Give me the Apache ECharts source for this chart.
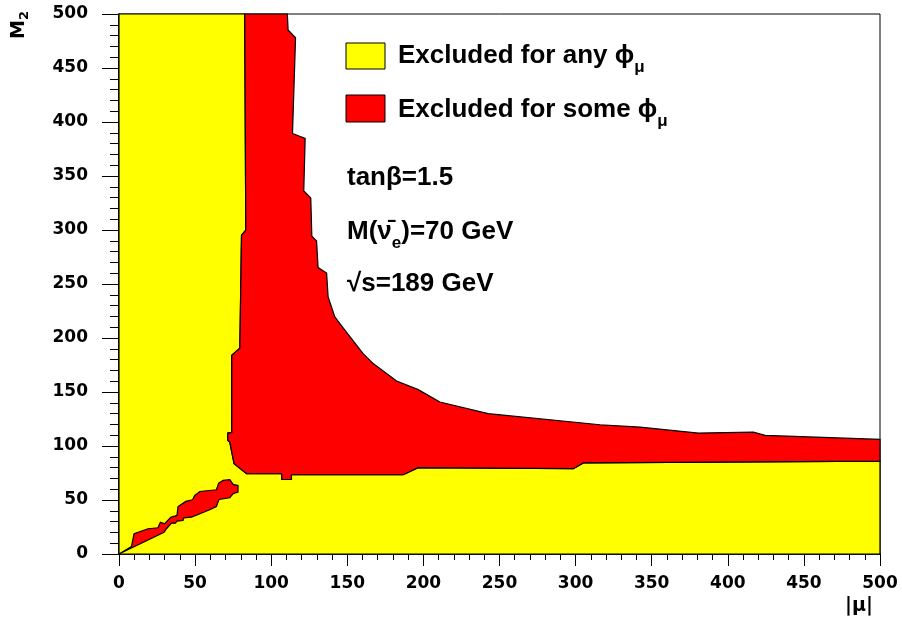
<!DOCTYPE html>
<html><head><meta charset="utf-8">
<script src="https://cdn.jsdelivr.net/npm/echarts@6/dist/echarts.min.js"></script>
<style>html,body{margin:0;padding:0;background:#fff}#c{width:902px;height:619px}</style>
</head><body><div id="c"></div>
<script>
// |mu| (x) vs M2 (y) exclusion regions, tan(beta)=1.5
const xTicks = [0, 50, 100, 150, 200, 250, 300, 350, 400, 450, 500];
const yTicks = [0, 50, 100, 150, 200, 250, 300, 350, 400, 450, 500];

// "Excluded for any phi_mu" (yellow) – drawn underneath
const yellowRegion = [
  [0, 0], [0, 500], [82.6, 500], [83.3, 299.8], [80.5, 295.2], [79.4, 190.5],
  [74.1, 184.0], [74.1, 112.6], [71.5, 112.0], [71.5, 105.2], [72.8, 103.6],
  [75.6, 83.6], [83.8, 74.3], [106.8, 74.3], [107.0, 69.0], [113.3, 69.0],
  [113.3, 73.4], [186.7, 73.4], [196.6, 79.9], [298.5, 79.0], [305.1, 84.3],
  [500, 86.0], [500, 0]
];

// "Excluded for some phi_mu" (red) – main band
const redRegion = [
  [82.6, 500], [110.6, 500], [111.1, 485.2], [116.0, 478.0], [114.0, 389.4],
  [122.3, 384.8], [121.4, 336.2], [126.0, 329.7], [126.7, 294.3], [129.8, 289.9],
  [130.8, 265.2], [136.4, 260.2], [137.4, 238.0], [141.8, 219.5], [148.4, 207.2],
  [160.4, 185.5], [167.0, 176.3], [182.4, 160.1], [196.6, 152.2], [210.8, 140.7],
  [242.6, 129.9], [316.0, 119.7], [342.3, 117.5], [380.7, 112.0], [416.8, 112.9],
  [424.5, 109.8], [500, 106.1], [500, 86.0], [305.1, 84.3], [298.5, 79.0],
  [196.6, 79.9], [186.7, 73.4], [113.3, 73.4], [113.3, 69.0], [107.0, 69.0],
  [106.8, 74.3], [83.8, 74.3], [75.6, 83.6], [72.8, 103.6], [71.5, 105.2],
  [71.5, 112.0], [74.1, 112.6], [74.1, 184.0], [79.4, 190.5], [80.5, 295.2],
  [83.3, 299.8]
];

// red island along the diagonal
const redIsland = [
  [0, 0], [8.2, 7.0], [9.9, 18.7], [19.1, 23.4], [25.6, 24.3], [27.2, 29.5],
  [30.0, 28.0], [34.0, 34.1], [38.1, 35.7], [38.8, 44.0], [43.9, 48.7],
  [48.3, 50.2], [49.8, 54.2], [53.1, 57.9], [64.0, 59.5], [65.5, 65.6],
  [68.4, 68.1], [72.8, 68.8], [75.0, 64.4], [78.2, 63.5], [78.2, 57.3],
  [75.0, 55.8], [72.8, 52.1], [65.7, 50.5], [64.0, 44.0], [59.6, 41.0],
  [50.4, 35.7], [47.6, 34.1], [42.5, 33.5], [42.1, 31.0], [38.1, 30.4],
  [37.1, 28.5], [34.5, 28.5], [31.2, 23.4], [29.6, 20.2]
];

const YELLOW = '#ffff00', RED = '#ff0000';
const FONT = 'Liberation Sans, Arial, sans-serif';
const TICKFONT = 'DejaVu Sans, sans-serif';

function polySeries(name, pts, fill, z) {
  return {
    type: 'custom', name: name, data: pts, z: z, silent: true,
    renderItem: function (params, api) {
      if (params.dataIndex !== 0) return null;
      return {
        type: 'polygon',
        shape: { points: pts.map(function (p) { return api.coord(p); }) },
        style: { fill: fill, stroke: '#000', lineWidth: 1.2 }
      };
    }
  };
}

const chart = echarts.init(document.getElementById('c'), null, { renderer: 'canvas' });
const bigA = { fontSize: 26, fontWeight: 'bold', fontFamily: FONT, color: '#000', lineHeight: 30 };
const bigS = { fontSize: 17, fontWeight: 'bold', fontFamily: FONT, color: '#000', lineHeight: 17, padding: [22, 0, 0, 0] };

chart.setOption({
  animation: false,
  backgroundColor: '#fff',
  grid: { left: 119, top: 14, right: 22, bottom: 65, show: true, borderColor: '#000', borderWidth: 1, backgroundColor: '#fff' },
  xAxis: {
    type: 'value', min: xTicks[0], max: xTicks[xTicks.length - 1], interval: 50,
    axisLine: { onZero: false, lineStyle: { color: '#000', width: 1.5 } },
    axisTick: { length: 12, lineStyle: { color: '#000', width: 1 } },
    minorTick: { show: true, splitNumber: 5, length: 6, lineStyle: { color: '#000', width: 1 } },
    splitLine: { show: false },
    axisLabel: { fontFamily: TICKFONT, fontWeight: 'bold', fontSize: 17, color: '#000', margin: 21 }
  },
  yAxis: {
    type: 'value', min: yTicks[0], max: yTicks[yTicks.length - 1], interval: 50,
    axisLine: { onZero: false, lineStyle: { color: '#000', width: 1.5 } },
    axisTick: { length: 17, lineStyle: { color: '#000', width: 1 } },
    minorTick: { show: true, splitNumber: 5, length: 9, lineStyle: { color: '#000', width: 1 } },
    splitLine: { show: false },
    axisLabel: { fontFamily: TICKFONT, fontWeight: 'bold', fontSize: 17, color: '#000', margin: 31 }
  },
  series: [
    polySeries('Excluded for any', yellowRegion, YELLOW, 2),
    polySeries('Excluded for some', redRegion, RED, 3),
    polySeries('Excluded for some (island)', redIsland, RED, 4)
  ],
  graphic: [
    { type: 'rect', shape: { x: 346, y: 43, width: 39, height: 26 }, style: { fill: YELLOW, stroke: '#000', lineWidth: 1 }, z: 10 },
    { type: 'rect', shape: { x: 346, y: 95, width: 39, height: 27 }, style: { fill: RED, stroke: '#000', lineWidth: 1 }, z: 10 },
    { type: 'text', x: 398, y: 56, z: 10, style: { text: '{a|Excluded for any ϕ}{s|μ}', rich: { a: bigA, s: bigS }, verticalAlign: 'middle', align: 'left' } },
    { type: 'text', x: 398, y: 110, z: 10, style: { text: '{a|Excluded for some ϕ}{s|μ}', rich: { a: bigA, s: bigS }, verticalAlign: 'middle', align: 'left' } },
    { type: 'text', x: 347, y: 178, z: 10, style: { text: 'tanβ=1.5', font: 'bold 26px ' + FONT, fill: '#000', verticalAlign: 'middle', align: 'left' } },
    { type: 'text', x: 347, y: 232, z: 10, style: { text: '{a|M(ν\u0304}{s|e}{a|)=70 GeV}', rich: { a: bigA, s: bigS }, verticalAlign: 'middle', align: 'left' } },
    { type: 'text', x: 347, y: 284, z: 10, style: { text: '√s=189 GeV', font: 'bold 26px ' + FONT, fill: '#000', verticalAlign: 'middle', align: 'left' } },
    { type: 'text', x: 19, y: 25, rotation: Math.PI / 2, z: 10, style: {
      text: '{a|M}{s|2}', align: 'center', verticalAlign: 'middle',
      rich: { a: { fontSize: 19, fontWeight: 'bold', fontFamily: TICKFONT, color: '#000', lineHeight: 20 },
              s: { fontSize: 13, fontWeight: 'bold', fontFamily: TICKFONT, color: '#000', lineHeight: 13, padding: [11, 0, 0, 0] } } } },
    { type: 'text', x: 859, y: 606, z: 10, style: { text: '|μ|', font: 'bold 19px ' + TICKFONT, fill: '#000', verticalAlign: 'middle', align: 'center' } }
  ]
});
</script>
</body></html>
